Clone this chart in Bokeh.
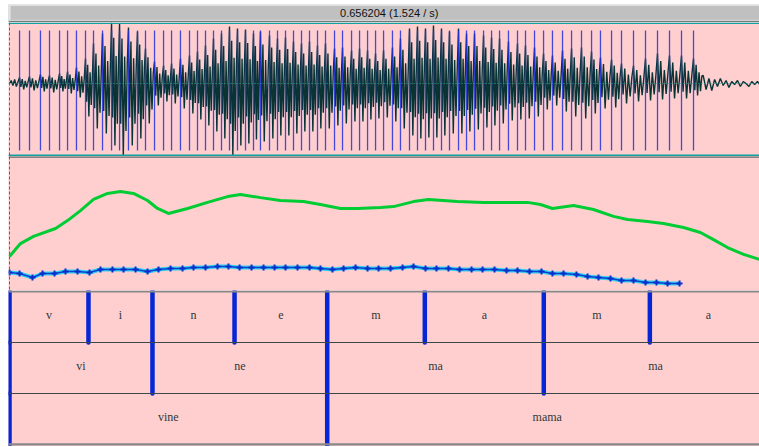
import numpy as np
from bokeh.plotting import figure
from bokeh.models import Range1d, Span
from bokeh.layouts import column
from bokeh.embed import file_html
from bokeh.resources import INLINE
from bokeh.core.properties import value

# ---------------- data ----------------
title_text = "0.656204 (1.524 / s)"
view_start_ms = -0.875
view_end_ms = 656.25

# glottal pulses (ms)
pulse_ms = [8.8, 17.5, 27.1, 35.0, 43.8, 50.8, 58.6, 66.5, 73.5, 81.4,
            89.3, 96.3, 104.1, 112.0, 119.0, 126.9, 134.8, 141.8, 149.6, 157.5,
            164.5, 171.5, 178.5, 185.5, 192.5, 199.5, 206.5, 213.5, 219.6, 227.5,
            234.5, 241.5, 248.5, 255.5, 262.5, 269.5, 276.5, 284.4, 291.4, 299.3,
            306.3, 313.3, 320.3, 327.3, 335.1, 342.1, 350.0, 357.0, 364.0, 371.0,
            378.0, 385.0, 392.9, 399.9, 406.9, 414.8, 421.8, 428.8, 436.6, 444.5,
            451.5, 459.4, 467.3, 475.1, 483.9, 491.8, 500.5, 509.3, 517.1, 526.8,
            535.5, 546.0, 556.5, 567.0, 577.5, 588.0, 598.5]
# waveform peak / trough per pulse period
wave_hi = [.06, .07, .09, .08, .10, .12, .16, .25, .40, .50,
           .61, .60, .56, .52, .35, .22, .18, .20, .25, .28,
           .32, .38, .45, .50, .57, .55, .54, .50, .52, .48,
           .45, .46, .42, .40, .42, .38, .40, .35, .36, .33,
           .35, .33, .30, .33, .36, .45, .55, .57, .55, .58,
           .55, .52, .55, .50, .50, .48, .46, .45, .42, .40,
           .38, .36, .30, .28, .33, .35, .36, .32, .26, .24,
           .20, .18, .25, .30, .28, .28, .25]
wave_lo = [-.06, -.07, -.08, -.09, -.08, -.10, -.14, -.33, -.45, -.50,
           -.62, -.73, -.62, -.55, -.40, -.22, -.18, -.20, -.25, -.30,
           -.36, -.42, -.48, -.55, -.73, -.62, -.60, -.56, -.58, -.55,
           -.52, -.52, -.50, -.48, -.48, -.45, -.45, -.42, -.40, -.38,
           -.38, -.36, -.35, -.34, -.38, -.45, -.52, -.55, -.54, -.54,
           -.52, -.50, -.50, -.48, -.46, -.44, -.42, -.40, -.37, -.36,
           -.35, -.33, -.26, -.22, -.28, -.33, -.35, -.30, -.25, -.24,
           -.20, -.18, -.17, -.16, -.15, -.15, -.12]
# relative sub-oscillations inside one period (phase, relative amplitude)
period_phase = [0.0, 0.13, 0.27, 0.42, 0.57, 0.72, 0.86]
period_rel = [1.0, -0.55, 0.75, -1.0, 0.45, -0.65, 0.3]
# low-level noise before the first pulse and after the last
pre_ms = [0.0, 1.5, 3.0, 4.5, 6.0, 7.5]
pre_amp = [0.0, 0.03, -0.02, 0.04, -0.03, 0.02]
post_ms = [607.0, 609.5, 612.0, 614.5, 617.0, 619.5, 622.0, 624.5, 627.0, 629.5,
           632.0, 634.5, 637.0, 639.5, 642.0, 644.5, 647.0, 649.5, 652.0, 654.5, 657.0]
post_amp = [0.08, -0.06, 0.05, -0.07, 0.04, -0.03, 0.05, -0.02, 0.03, -0.04,
            0.02, -0.01, 0.03, -0.03, 0.02, 0.0, -0.03, 0.02, -0.01, 0.02, -0.02]

# intensity (dB)
intensity_ms = [0.0, 9.6, 21.0, 40.3, 50.8, 62.1, 73.5, 85.8, 97.1, 108.5,
                120.8, 129.5, 139.1, 155.8, 173.3, 190.8, 202.1, 219.6, 237.1, 257.3,
                272.1, 289.6, 304.5, 324.6, 336.0, 353.5, 366.6, 392.0, 414.8, 453.3,
                464.6, 475.1, 493.5, 511.0, 528.5, 540.8, 558.3, 572.3, 589.8, 604.6,
                616.0, 628.3, 642.3, 656.3]
intensity_db = [62.5, 67.4, 70.1, 73.1, 76.1, 79.9, 84.1, 86.4, 87.1, 86.4,
                83.7, 80.7, 78.8, 80.7, 83.0, 85.2, 86.0, 84.8, 83.7, 83.3,
                82.2, 80.7, 80.7, 81.1, 81.4, 83.3, 84.1, 83.3, 83.0, 83.0,
                82.2, 80.7, 81.8, 80.3, 77.7, 76.5, 75.8, 75.0, 73.5, 71.6,
                68.9, 65.9, 63.3, 61.4]

# pitch (Hz)
pitch_ms = [0.0, 8.8, 20.1, 28.9, 39.4, 49.0, 59.5, 70.0, 79.6, 90.1,
            99.8, 110.3, 120.8, 130.4, 140.9, 151.4, 161.0, 171.5, 182.0, 191.6,
            201.3, 211.8, 222.3, 231.9, 241.5, 252.0, 262.5, 272.1, 282.6, 292.3,
            302.8, 313.3, 322.9, 333.4, 343.9, 353.5, 364.0, 373.6, 384.1, 393.8,
            404.3, 413.9, 424.4, 434.9, 444.5, 455.0, 465.5, 475.1, 484.8, 496.1,
            505.8, 515.4, 525.9, 535.5, 546.0, 556.5, 566.1, 575.8, 586.3]
pitch_hz = [129.7, 126.5, 113.6, 126.5, 126.5, 133.0, 133.0, 129.7, 139.4, 139.4,
            139.4, 139.4, 133.0, 139.4, 142.6, 142.6, 145.8, 145.8, 149.1, 149.1,
            145.8, 145.8, 145.8, 145.8, 145.8, 145.8, 145.8, 142.6, 139.4, 142.6,
            145.8, 142.6, 142.6, 142.6, 145.8, 149.1, 142.6, 142.6, 142.6, 139.4,
            139.4, 139.4, 139.4, 136.2, 136.2, 133.0, 133.0, 126.5, 126.5, 123.3,
            116.9, 113.6, 110.4, 104.0, 104.0, 97.5, 97.5, 94.3, 94.3]

# TextGrid tiers
phone_bounds_ms = [0.0, 69.1, 125.1, 196.9, 278.0, 363.4, 467.5, 560.3, 663.0]
phone_labels = ["v", "i", "n", "e", "m", "a", "m", "a"]
syll_bounds_ms = [0.0, 125.1, 278.0, 467.5, 663.0]
syll_labels = ["vi", "ne", "ma", "ma"]
word_bounds_ms = [0.0, 278.0, 663.0]
word_labels = ["vine", "mama"]

# ---------------- styling ----------------
PINK = "#ffcfcf"
W = 751


def base_fig(h, yr, **kw):
    f = figure(width=W, height=h, x_range=Range1d(view_start_ms, view_end_ms),
               y_range=yr, output_backend="svg", toolbar_location=None,
               x_axis_type=None, y_axis_type=None, min_border=0,
               min_border_left=0, min_border_right=0, min_border_top=0,
               min_border_bottom=0, outline_line_color=None,
               background_fill_color=PINK, border_fill_color=PINK, **kw)
    f.grid.visible = False
    return f


# ---- title bar ----
pt = figure(width=W, height=18, x_range=Range1d(0, 1), y_range=Range1d(0, 18),
            output_backend="svg", toolbar_location=None, x_axis_type=None,
            y_axis_type=None, min_border=0, min_border_left=0, min_border_right=0,
            min_border_top=0, min_border_bottom=0, outline_line_color=None,
            background_fill_color="#c0c0c0", border_fill_color="#c0c0c0")
pt.grid.visible = False
pt.add_layout(Span(location=17.5, dimension="width", line_color="#ececec", line_width=1.5))
pt.add_layout(Span(location=0.0015, dimension="height", line_color="#e4e4e4", line_width=2))
pt.add_layout(Span(location=2.0, dimension="width", line_color="#d2d2d2", line_width=1.5))
pt.add_layout(Span(location=0.5, dimension="width", line_color="#1c3030", line_width=1.2))
pt.text(x=[0.507], y=[9.5], text=[title_text], text_font=value("Liberation Sans"),
        text_font_size="11px", text_align="center", text_baseline="middle",
        text_color="#101010")

# ---- waveform ----
wx, wy = list(pre_ms), list(pre_amp)
for i, t0 in enumerate(pulse_ms):
    T = (pulse_ms[i + 1] - t0) if i + 1 < len(pulse_ms) else 8.5
    for ph, rel in zip(period_phase, period_rel):
        wx.append(t0 + ph * T)
        wy.append(rel * wave_hi[i] if rel > 0 else -rel * wave_lo[i])
wx += post_ms
wy += post_amp

pw = base_fig(134, Range1d(-0.73, 0.61))
pw.add_layout(Span(location=0, dimension="width", line_color="#2aa0a0",
                   line_dash="1 2", line_width=1))
pw.line(wx, wy, line_color="#0a3434", line_width=1.4)
pw.segment(x0=pulse_ms, x1=pulse_ms, y0=[-0.67] * len(pulse_ms),
           y1=[0.53] * len(pulse_ms), line_color="#2233dd", line_width=1.3, line_alpha=0.85)
pw.add_layout(Span(location=0.603, dimension="width", line_color="#12a0a0", line_width=1.5))
pw.add_layout(Span(location=-0.718, dimension="width", line_color="#12a0a0", line_width=1.5))
pw.add_layout(Span(location=0, dimension="height", line_color="#ff2020",
                   line_dash="3 2", line_width=1))

# ---- pitch & intensity ----
pp = base_fig(134, Range1d(71.8, 503.2))
pp.extra_y_ranges = {"db": Range1d(49.62, 100.38)}
pp.add_layout(Span(location=501.8, dimension="width", line_color="#1c3030", line_width=1.3))
pp.add_layout(Span(location=0, dimension="height", line_color="#ff2020",
                   line_dash="3 2", line_width=1))
pp.line(intensity_ms, intensity_db, y_range_name="db", line_color="#00cc33", line_width=3)
pp.line(pitch_ms, pitch_hz, line_color="#30d0f0", line_width=4)
pp.line(pitch_ms, pitch_hz, line_color="#1040d0", line_width=1.5)
pp.scatter(pitch_ms, pitch_hz, marker="cross", size=6, line_color="#0a2cc8", line_width=2)

# ---- TextGrid ----
pg = base_fig(156, Range1d(-0.04, 3.02))
pg.add_layout(Span(location=3.0, dimension="width", line_color="#888888", line_width=2.2))
pg.add_layout(Span(location=0.0, dimension="width", line_color="#888888", line_width=2.2))
pg.add_layout(Span(location=2.0, dimension="width", line_color="#3c4848", line_width=1.2))
pg.add_layout(Span(location=1.0, dimension="width", line_color="#3c4848", line_width=1.2))

tiers = [(phone_bounds_ms, phone_labels, 2.0),
         (syll_bounds_ms, syll_labels, 1.0),
         (word_bounds_ms, word_labels, 0.0)]
for bounds, labels, base in tiers:
    b = bounds[:-1]
    pg.segment(x0=b, x1=b, y0=[base] * len(b), y1=[base + 1.0] * len(b),
               line_color="#0626d6", line_width=4.5, line_cap="round")
    mids = [(bounds[i] + bounds[i + 1]) / 2 for i in range(len(labels))]
    pg.text(x=mids, y=[base + 0.53] * len(labels), text=labels,
            text_font=value("Liberation Serif"), text_font_size="12px",
            text_align="center", text_baseline="middle", text_color="#303838")

layout = column(pt, pw, pp, pg, spacing=0, margin=(4, 0, 0, 8))

open("out.html", "w").write(file_html(layout, INLINE))
